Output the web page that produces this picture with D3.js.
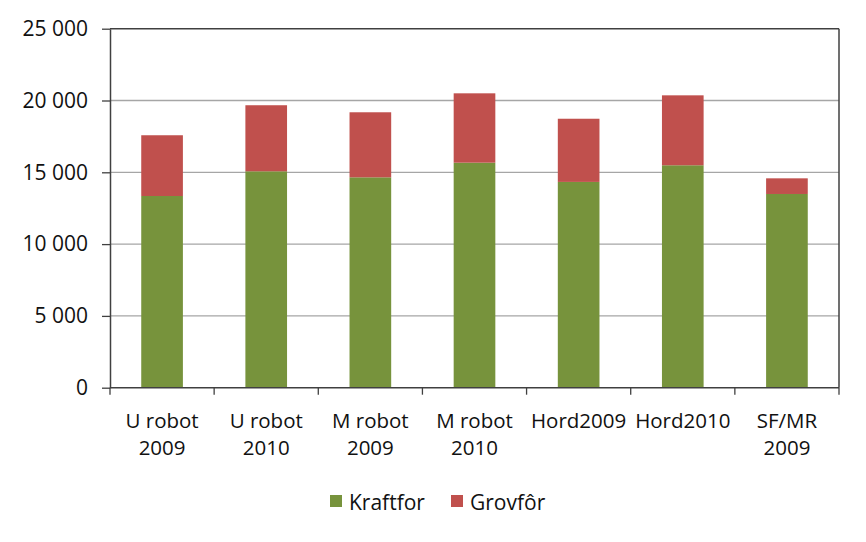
<!DOCTYPE html>
<html><head><meta charset="utf-8">
<script src="https://cdn.jsdelivr.net/npm/d3@7"></script>
<style>body{margin:0;background:#fff}svg{display:block}text{font-family:"Open Sans",sans-serif;fill:#111}</style>
</head><body><svg id="c" width="866" height="542"></svg>
<script>
const categories = ["U robot 2009","U robot 2010","M robot 2009","M robot 2010","Hord2009","Hord2010","SF/MR 2009"];
const categoryLines = [["U robot","2009"],["U robot","2010"],["M robot","2009"],["M robot","2010"],["Hord2009"],["Hord2010"],["SF/MR","2009"]];
const kraftfor = [13350, 15070, 14650, 15670, 14330, 15490, 13490];
const grovfor  = [4230, 4600, 4530, 4830, 4400, 4870, 1090];
const seriesNames = ["Kraftfor","Grovfôr"];
const colors = ["#77933C","#C0504D"];
const yTicks = [0,5000,10000,15000,20000,25000];

const svg = d3.select("#c");
const L=110, R=839, T=28.7, B=387.7;
const x = d3.scaleBand().domain(categories).range([L,R]).paddingInner(0.6).paddingOuter(0.3);
const xb = d3.scaleBand().domain(categories).range([L,R]);
const y = d3.scaleLinear().domain([0,25000]).range([B,T]);
const fmt = v => d3.format(",")(v).replace(/,/g," ");

svg.append("g").selectAll("line").data(yTicks.filter(v=>v>0 && v<25000)).join("line")
  .attr("x1",L).attr("x2",R).attr("y1",d=>y(d)).attr("y2",d=>y(d))
  .attr("stroke","#A6A6A6").attr("stroke-width",1.3);

const data = categories.map((c,i)=>({c, k:kraftfor[i], g:grovfor[i]}));
const stack = d3.stack().keys(["k","g"])(data);
svg.append("g").selectAll("g").data(stack).join("g").attr("fill",(d,i)=>colors[i])
  .selectAll("rect").data(d=>d).join("rect")
  .attr("x",d=>x(d.data.c)).attr("width",x.bandwidth())
  .attr("y",d=>y(d[1])).attr("height",d=>y(d[0])-y(d[1]));

svg.append("line").attr("x1",L).attr("x2",R).attr("y1",T).attr("y2",T).attr("stroke","#404040").attr("stroke-width",1.5);
svg.append("line").attr("x1",R).attr("x2",R).attr("y1",T).attr("y2",B).attr("stroke","#404040").attr("stroke-width",1.5);

const ya = svg.append("g").attr("transform",`translate(${L},0)`)
  .call(d3.axisLeft(y).tickValues(yTicks).tickFormat(fmt).tickSize(8).tickPadding(14).tickSizeOuter(0));
ya.select(".domain").attr("stroke","#404040").attr("stroke-width",1.5);
ya.selectAll(".tick line").attr("stroke","#404040").attr("stroke-width",1.3);
ya.selectAll("text").attr("font-size","21px").attr("fill","#111").attr("font-family","'Open Sans',sans-serif");

const xa = svg.append("g").attr("transform",`translate(0,${B})`);
xa.append("line").attr("x1",L).attr("x2",R).attr("stroke","#404040").attr("stroke-width",1.5);
const bounds = categories.map(c=>xb(c)).concat([R]);
xa.selectAll("line.t").data(bounds).join("line").attr("class","t")
  .attr("x1",d=>d).attr("x2",d=>d).attr("y1",0).attr("y2",7).attr("stroke","#404040").attr("stroke-width",1.3);
categories.forEach((c,i)=>{
  const t = xa.append("text").attr("text-anchor","middle").attr("font-size","20.5px")
    .attr("x",xb(c)+xb.bandwidth()/2).attr("y",40);
  categoryLines[i].forEach((ln,j)=>t.append("tspan").attr("x",xb(c)+xb.bandwidth()/2).attr("dy",j?27:0).text(ln));
});

const lg = svg.append("g");
const lx = [330, 451];
seriesNames.forEach((n,i)=>{
  lg.append("rect").attr("x",lx[i]).attr("y",495).attr("width",12).attr("height",12).attr("fill",colors[i]);
  lg.append("text").attr("x",lx[i]+19).attr("y",510).attr("font-size","21px").text(n);
});
</script></body></html>
